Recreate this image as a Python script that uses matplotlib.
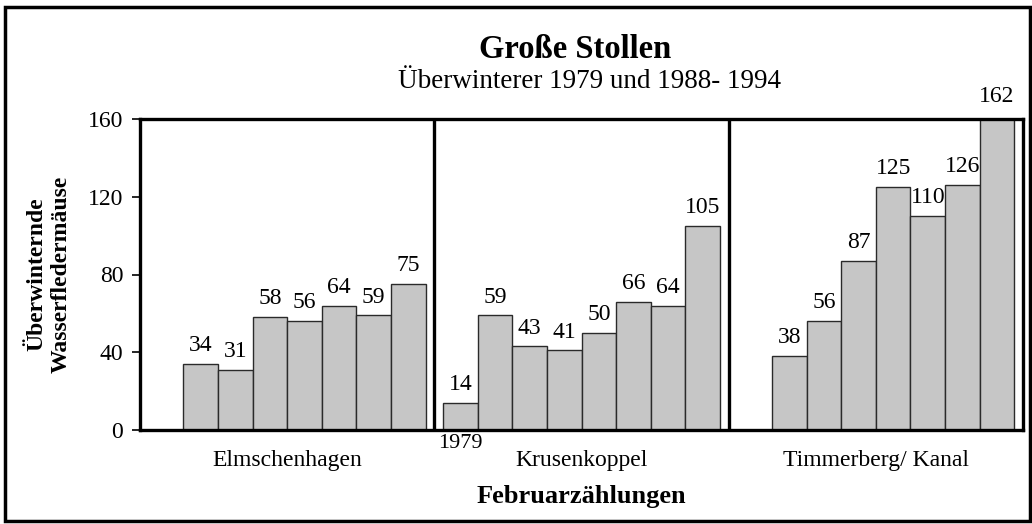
import numpy as np
import matplotlib
matplotlib.use("Agg")
import matplotlib.pyplot as plt
from matplotlib.patches import Rectangle

plt.rcParams['font.family'] = ['Liberation Serif', 'DejaVu Serif']

# data (Februarzählungen, 1979 und 1988-1994)
years = ["1979", "1988", "1989", "1990", "1991", "1992", "1993", "1994"]
sites = ["Elmschenhagen", "Krusenkoppel", "Timmerberg/ Kanal"]
elmschenhagen = [None, 34, 31, 58, 56, 64, 59, 75]
krusenkoppel = [14, 59, 43, 41, 50, 66, 64, 105]
timmerberg = [None, 38, 56, 87, 125, 110, 126, 162]
yticks = [0, 40, 80, 120, 160]

series = [elmschenhagen, krusenkoppel, timmerberg]
panel_w = 8.5
gap = 0.25

fig = plt.figure(figsize=(10.32, 5.24), dpi=100)
ax = fig.add_axes([140/1032, 1-430/524, 883/1032, 311/524])

for p, vals in enumerate(series):
    for i, v in enumerate(vals):
        if v is None:
            continue
        x = p*panel_w + gap + i + 0.5
        ax.bar(x, v, width=1.0, color="#c6c6c6", edgecolor="#2a2a2a", linewidth=1.0)
        ax.text(x, v + 4, str(v), ha="center", va="bottom", fontsize=17, clip_on=False)
    # site label
    ax.text(p*panel_w + panel_w/2, -15.5, sites[p], ha="center", va="center", fontsize=17)
    if p > 0:
        ax.axvline(p*panel_w, color="black", lw=2.4)

# year label under the first bar that exists
ax.text(panel_w + gap + 0.5, -7, years[0], ha="center", va="center", fontsize=16)

ax.set_xlim(0, 3*panel_w)
ax.set_ylim(0, 160)
ax.set_yticks(yticks)
ax.set_yticklabels([str(t) for t in yticks], fontsize=17)
ax.set_xticks([])
ax.tick_params(axis="y", direction="out", length=6, width=1.2, pad=6)
for s in ax.spines.values():
    s.set_linewidth(2.4)

ax.set_ylabel("Überwinternde\nWasserfledermäuse", fontsize=17, fontweight="bold",
              linespacing=1.2, labelpad=12)
fig.text(581/1032, 1-497/524, "Februarzählungen", ha="center", va="center",
         fontsize=19, fontweight="bold")

fig.text(575/1032, 1-50/524, "Große Stollen", ha="center", va="center",
         fontsize=23.5, fontweight="bold")
fig.text(589/1032, 1-81/524, "Überwinterer 1979 und 1988- 1994", ha="center", va="center",
         fontsize=19.5)

# outer frame of the figure
fig.patches.append(Rectangle((5/1032, 3/524), 1025/1032, 514/524, transform=fig.transFigure,
                             fill=False, edgecolor="black", linewidth=2.5))

fig.savefig("out.png", dpi=100)
